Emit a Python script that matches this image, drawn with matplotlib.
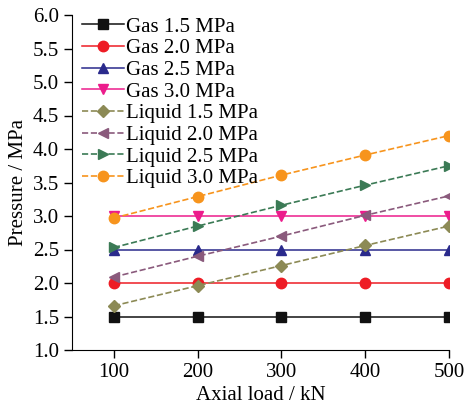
import matplotlib.pyplot as plt
import numpy as np

plt.rcParams['font.family'] = ['Liberation Serif', 'DejaVu Serif']

loads = [100, 200, 300, 400, 500]

gas_15 = [1.5, 1.5, 1.5, 1.5, 1.5]
gas_20 = [2.0, 2.0, 2.0, 2.0, 2.0]
gas_25 = [2.5, 2.5, 2.5, 2.5, 2.5]
gas_30 = [3.0, 3.0, 3.0, 3.0, 3.0]
liq_15 = [1.66, 1.96, 2.26, 2.56, 2.85]
liq_20 = [2.09, 2.40, 2.70, 3.01, 3.30]
liq_25 = [2.53, 2.85, 3.16, 3.46, 3.75]
liq_30 = [2.97, 3.29, 3.61, 3.91, 4.20]

labels = ["Gas 1.5 MPa", "Gas 2.0 MPa", "Gas 2.5 MPa", "Gas 3.0 MPa",
          "Liquid 1.5 MPa", "Liquid 2.0 MPa", "Liquid 2.5 MPa", "Liquid 3.0 MPa"]

fig = plt.figure(figsize=(4.7, 4.04), dpi=100)
ax = fig.add_axes([72/470, 54/404, 377/470, 335/404])

ax.plot(loads, gas_15, '-', color='#111111', marker='s', ms=6.5, lw=1.1, label=labels[0])
ax.plot(loads, gas_20, '-', color='#ee1c25', marker='o', ms=7.5, lw=1.1, label=labels[1])
ax.plot(loads, gas_25, '-', color='#2a2a8c', marker='^', ms=7.5, lw=1.1, label=labels[2])
ax.plot(loads, gas_30, '-', color='#ec1c8c', marker='v', ms=7.5, lw=1.1, label=labels[3])
ax.plot(loads, liq_15, '--', color='#8c8a55', marker='D', ms=6.5, lw=1.2, label=labels[4])
ax.plot(loads, liq_20, '--', color='#8a5a7c', marker='<', ms=7.5, lw=1.2, label=labels[5])
ax.plot(loads, liq_25, '--', color='#3b7a55', marker='>', ms=7.5, lw=1.2, label=labels[6])
ax.plot(loads, liq_30, '--', color='#f7941d', marker='o', ms=7.5, lw=1.2, label=labels[7])

ax.set_xlim(50, 500)
ax.set_ylim(1.0, 6.0)
ax.set_xticks(loads)
ax.set_yticks(np.arange(1.0, 6.01, 0.5))
ax.yaxis.set_major_formatter(plt.FormatStrFormatter('%.1f'))
ax.tick_params(direction='out', length=6, width=1, labelsize=15)

ax.spines['top'].set_visible(False)
ax.spines['right'].set_visible(False)

ax.set_xlabel('Axial load / kN', fontsize=15, labelpad=3)
ax.set_ylabel('Pressure / MPa', fontsize=15, labelpad=3)

leg = ax.legend(loc='upper left', frameon=False, fontsize=15, handlelength=2.0,
                handletextpad=0.1, labelspacing=0.1, borderaxespad=0.1,
                bbox_to_anchor=(0.0, 1.025))

fig.savefig('out.png', dpi=100)
